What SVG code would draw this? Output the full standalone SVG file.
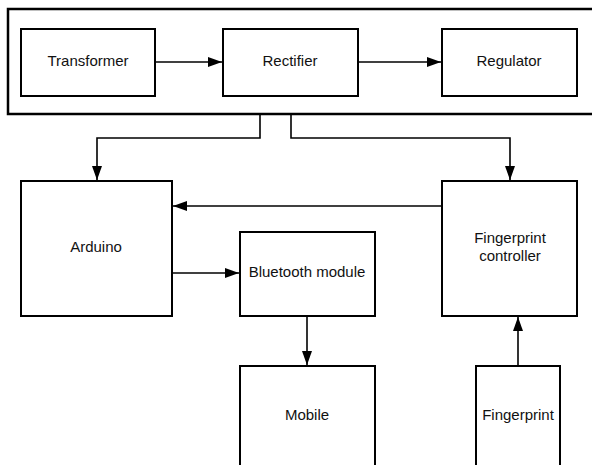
<svg xmlns="http://www.w3.org/2000/svg" width="592" height="465" viewBox="0 0 592 465">
<style>
.box{fill:#fff;stroke:#000;stroke-width:2}
.outer{fill:#fff;stroke:#000;stroke-width:2.5}
.lbl{font-family:"Liberation Sans",Arial,sans-serif;font-size:15px;fill:#111;text-anchor:middle}
.con{fill:none;stroke:#000;stroke-width:1.6}
</style>
<defs>
<marker id="ah" viewBox="0 0 14 10" refX="14" refY="5" markerWidth="14" markerHeight="10" markerUnits="userSpaceOnUse" orient="auto">
<path d="M0,0 L14,5 L0,10 Z" fill="#000"/>
</marker>
</defs>
<rect width="592" height="465" fill="#fff"/>
<g id="power-supply"><rect class="outer" x="8" y="9" width="600" height="105"/></g>
<g id="transformer"><rect class="box" x="21" y="29" width="134" height="67"/><text class="lbl" x="88" y="66">Transformer</text></g>
<g id="rectifier"><rect class="box" x="223" y="29" width="135" height="67"/><text class="lbl" x="290" y="66">Rectifier</text></g>
<g id="regulator"><rect class="box" x="442" y="29" width="135" height="67"/><text class="lbl" x="509" y="66">Regulator</text></g>
<g id="arduino"><rect class="box" x="21" y="181" width="151" height="135"/><text class="lbl" x="96" y="252">Arduino</text></g>
<g id="bluetooth"><rect class="box" x="240" y="232" width="135" height="84"/><text class="lbl" x="307" y="277">Bluetooth module</text></g>
<g id="fp-controller"><rect class="box" x="442" y="181" width="135" height="135"/><text class="lbl" x="510" y="243">Fingerprint</text><text class="lbl" x="510" y="261">controller</text></g>
<g id="mobile"><rect class="box" x="240" y="366" width="135" height="110"/><text class="lbl" x="307" y="420">Mobile</text></g>
<g id="fingerprint"><rect class="box" x="476" y="366" width="84" height="110"/><text class="lbl" x="518" y="420">Fingerprint</text></g>
<g id="connectors">
<path class="con" d="M155,62 H222" marker-end="url(#ah)"/>
<path class="con" d="M358,62 H441" marker-end="url(#ah)"/>
<path class="con" d="M260,115 V138 H97 V180" marker-end="url(#ah)"/>
<path class="con" d="M291,115 V138 H510 V180" marker-end="url(#ah)"/>
<path class="con" d="M442,206 H173" marker-end="url(#ah)"/>
<path class="con" d="M172,273 H239" marker-end="url(#ah)"/>
<path class="con" d="M307,316 V365" marker-end="url(#ah)"/>
<path class="con" d="M518,366 V317" marker-end="url(#ah)"/>
</g>
</svg>
